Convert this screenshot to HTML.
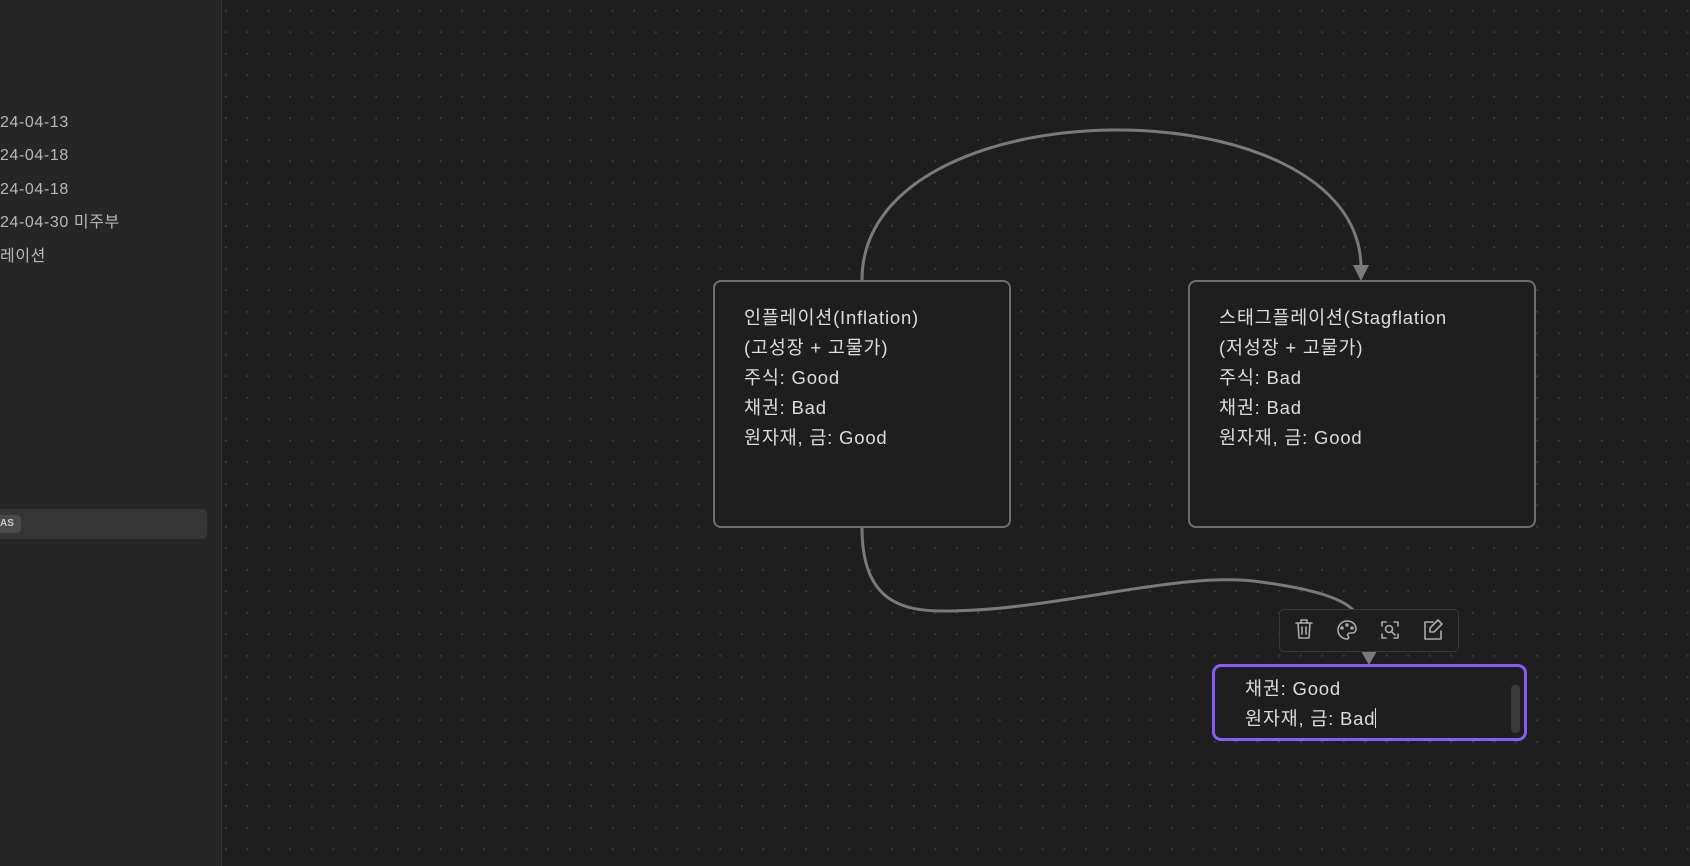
<!DOCTYPE html>
<html><head><meta charset="utf-8"><style>
html,body{margin:0;padding:0;width:1690px;height:866px;overflow:hidden;background:#1e1e1e;font-family:"Liberation Sans","Noto Sans CJK KR",sans-serif;}
#canvas{position:absolute;left:0;top:0;width:1690px;height:866px;background-color:#1e1e1e;background-image:radial-gradient(circle,#3a3a3a 1px,transparent 1.2px);background-size:21.5px 21.5px;}
#side{position:absolute;left:0;top:0;width:221px;height:866px;background:#262626;border-right:1px solid #333;}
.si{position:absolute;left:0;color:#b8b8b8;font-size:16px;letter-spacing:0.6px;white-space:nowrap;line-height:20px;}
.node{position:absolute;border:2px solid #6e6e6e;border-radius:8px;background:#1e1e1e;box-sizing:border-box;}
.txt{position:absolute;color:#dcdcdc;font-size:18.5px;letter-spacing:0.8px;line-height:30px;white-space:nowrap;}
</style></head><body>
<div id="canvas"></div>
<div id="side">
<div class="si" style="top:113px">24-04-13</div>
<div class="si" style="top:146px">24-04-18</div>
<div class="si" style="top:180px">24-04-18</div>
<div class="si" style="top:213px">24-04-30 미주부</div>
<div class="si" style="top:247px">레이션</div>
<div style="position:absolute;left:0;top:509px;width:207px;height:30px;background:#363636;border-radius:0 5px 5px 0"></div>
<div style="position:absolute;left:0;top:515px;width:21px;height:18px;background:#4a4a4a;border-radius:0 4px 4px 0;color:#ccc;font-size:10px;font-weight:bold;line-height:18px">AS</div>
</div>
<svg width="1690" height="866" style="position:absolute;left:0;top:0">
<path d="M862 280 C862 82, 1361 82, 1361 268" fill="none" stroke="#7a7a7a" stroke-width="3"/>
<polygon points="1353,265 1369,265 1361,281" fill="#7a7a7a"/>
<path d="M862 528 C862 600, 900 612, 948 611 C1060 610, 1180 570, 1261 582 C1320 590, 1345 600, 1355 612" fill="none" stroke="#7a7a7a" stroke-width="3"/>
<polygon points="1361,651 1377,651 1369,665" fill="#7a7a7a"/>
</svg>
<div class="node" style="left:713px;top:280px;width:298px;height:248px"></div>
<div class="txt" style="left:744px;top:303px">인플레이션(Inflation)<br>(고성장 + 고물가)<br>주식: Good<br>채권: Bad<br>원자재, 금: Good</div>
<div class="node" style="left:1188px;top:280px;width:348px;height:248px"></div>
<div class="txt" style="left:1219px;top:303px">스태그플레이션(Stagflation<br>(저성장 + 고물가)<br>주식: Bad<br>채권: Bad<br>원자재, 금: Good</div>
<div style="position:absolute;left:1279px;top:609px;width:180px;height:43px;background:#1e1e1e;border:1px solid #383838;border-radius:5px;box-sizing:border-box"></div>
<svg width="1690" height="866" style="position:absolute;left:0;top:0" fill="none" stroke="#aaa" stroke-width="1.6" stroke-linecap="round" stroke-linejoin="round">
<path d="M1296 623h16M1301 623v-3h6v3M1298 623l1 15h10l1-15M1302 627v7M1306 627v7"/>
<path d="M1347 621a9 9 0 1 0 0 18c2 0 2-2 1-3s0-3 2-3h3a4 4 0 0 0 3-4c0-5-4-8-9-8z"/><circle cx="1342" cy="628" r="1"/><circle cx="1347" cy="625" r="1"/><circle cx="1352" cy="628" r="1"/>
<path d="M1382 626v-4h4M1394 622h4v4M1398 634v4h-4M1386 638h-4v-4"/><circle cx="1389" cy="629" r="3.5"/><path d="M1392 632l3 3"/>
<path d="M1433 622h-8v17h16v-8M1438 620l4 4-8 8h-4v-4z"/>
</svg>
<div style="position:absolute;left:1212px;top:664px;width:315px;height:77px;border:3px solid #8a5cf5;border-radius:9px;box-sizing:border-box;background:#1e1e1e;overflow:hidden">
<div class="txt" style="left:30px;top:7px">채권: Good<br>원자재, 금: Bad<span style="display:inline-block;width:1px;height:20px;background:#ddd;vertical-align:-3px"></span></div>
<div style="position:absolute;left:296px;top:18px;width:9px;height:48px;background:#3a3a3a;border-radius:4px"></div>
</div>
</body></html>
